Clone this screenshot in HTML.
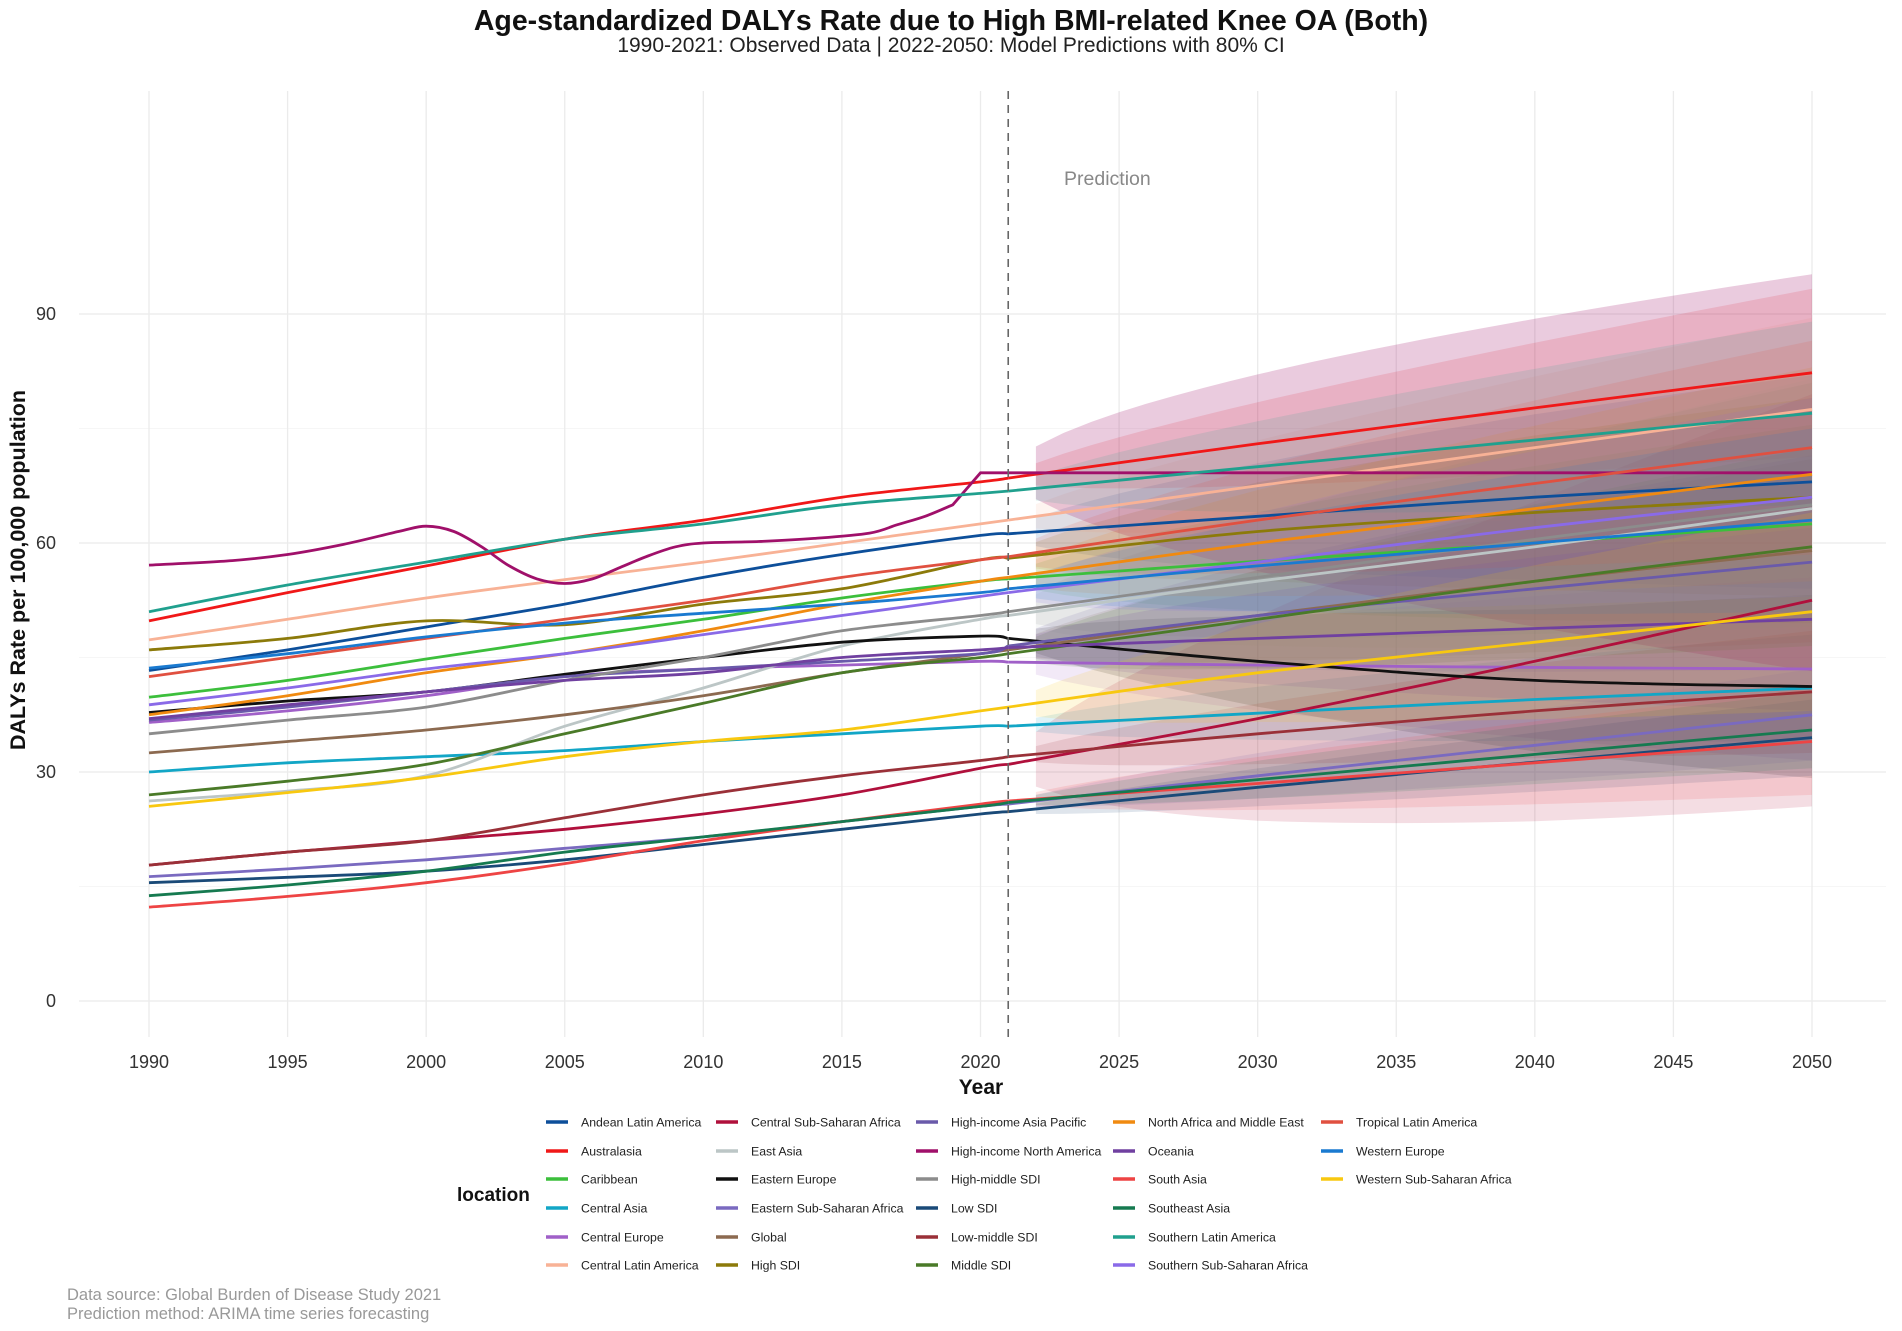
<!DOCTYPE html>
<html><head><meta charset="utf-8"><style>
body{margin:0;background:#fff;font-family:"Liberation Sans",Arial,sans-serif}
svg{display:block}
</style></head><body>
<svg id="chart" width="1902" height="1331" viewBox="0 0 1902 1331">
<text x="951" y="30" text-anchor="middle" font-size="28.5" font-weight="bold" fill="#111">Age-standardized DALYs Rate due to High BMI-related Knee OA (Both)</text>
<text x="951" y="52" text-anchor="middle" font-size="21" fill="#222">1990-2021: Observed Data | 2022-2050: Model Predictions with 80% CI</text>
<g id="grid"></g>
<g id="bands"></g>
<g id="lines"></g>
<g id="axes"></g>
<text x="1064" y="185" font-size="19.5" fill="#888">Prediction</text>
<text transform="translate(25,570) rotate(-90)" text-anchor="middle" font-size="21.5" font-weight="bold" fill="#111">DALYs Rate per 100,000 population</text>
<text x="981" y="1094" text-anchor="middle" font-size="21" font-weight="bold" fill="#111">Year</text>
<text x="457" y="1201" font-size="19" font-weight="bold" fill="#111">location</text>
<g id="legend"></g>
<text x="67" y="1300" font-size="16.5" fill="#999">Data source: Global Burden of Disease Study 2021</text>
<text x="67" y="1319" font-size="16.5" fill="#999">Prediction method: ARIMA time series forecasting</text>
</svg>
<script>
const obsYears=[1990,1995,2000,2005,2010,2015,2020,2021];
const fcYears=[2030,2040,2050];
const names=["Andean Latin America","Australasia","Caribbean","Central Asia","Central Europe","Central Latin America","Central Sub-Saharan Africa","East Asia","Eastern Europe","Eastern Sub-Saharan Africa","Global","High SDI","High-income Asia Pacific","High-income North America","High-middle SDI","Low SDI","Low-middle SDI","Middle SDI","North Africa and Middle East","Oceania","South Asia","Southeast Asia","Southern Latin America","Southern Sub-Saharan Africa","Tropical Latin America","Western Europe","Western Sub-Saharan Africa"];
const colors=["#0d4f9a","#f01818","#3cbf3c","#12a6c6","#a060c8","#f8b296","#b0103c","#bcc6c6","#111111","#7a6ac0","#8c6a50","#8c7a0a","#6a5aaa","#a0106a","#8c8c8c","#1a4a78","#9a3038","#4a7a28","#f08a10","#7040a0","#ee4444","#167a50","#20a08e","#8a6ae8","#e05040","#1a7ad0","#f8c810"];
const obs=[
[43.3,46,49,52,55.5,58.5,61,61.2],
[49.8,53.5,57,60.5,63,66,68,68.5],
[39.8,42,44.8,47.5,50,52.8,55,55.3],
[30,31.2,32,32.8,34,35,36,36],
[36.5,38,40,42.5,43.5,44,44.5,44.4],
[47.3,50,52.8,55.2,57.5,60,62.5,63],
[17.8,19.5,21,22.5,24.5,27,30.5,31],
[26.2,27.5,29.5,36,41,46.5,50,50.5],
[37.8,39.3,40.5,42.8,45,47,47.8,47.5],
[16.3,17.3,18.5,20,21.5,23.5,25.5,25.8],
[32.5,34,35.5,37.5,40,43,45.5,46],
[46,47.5,49.8,49.3,52,54,57.8,58],
[36.8,38.5,40.5,42.5,43.5,44.5,45.5,46.5],
null,
[35,36.8,38.5,42,45,48.5,50.5,51],
[15.5,16.2,17,18.5,20.5,22.5,24.5,24.8],
[17.8,19.5,21,24,27,29.5,31.5,32],
[27,28.8,31,35,39,43,45,45.5],
[37.5,40,43,45.5,48.5,52,55,55.5],
[37,38.8,40.5,42,43,45,46,46.3],
[12.3,13.7,15.5,18,21,23.5,25.8,26.2],
[13.8,15.2,17,19.5,21.5,23.5,25.5,26],
[51,54.5,57.5,60.5,62.5,65,66.5,66.8],
[38.8,41,43.5,45.5,48,50.5,53,53.5],
[42.5,45,47.5,50,52.5,55.5,57.8,58.2],
[43.6,45.5,47.7,49.5,50.8,52,53.5,54],
[25.5,27.3,29.3,32,34,35.5,38,38.5]];
const hinaYears=[1990,1993,1995,1997,1999,2000,2001,2002,2003,2004,2005,2006,2007,2008,2009,2010,2012,2014,2016,2017,2018,2019,2020,2021];
const hinaValues=[57.1,57.7,58.5,59.8,61.5,62.2,61.5,59.5,57,55.3,54.7,55.3,56.8,58.3,59.5,60,60.2,60.6,61.3,62.4,63.5,65,69.2,69.2];
const fc=[
[63.5,66,68],[73,77.7,82.3],[57.6,60,62.5],[37.7,39.5,41],[44,43.7,43.5],[67.5,72.5,77.5],
[37,44.5,52.5],[55,59.5,64.5],[44.5,42,41.2],[29.5,33.5,37.5],[50.5,55,59],[61.5,64,66],
[50.5,54,57.5],[69.2,69.2,69.2],[55.5,60.5,65],[28,31.3,34.5],[35,38,40.5],[50,55,59.5],
[60,64.5,69],[47.5,48.8,50],[28.5,31.2,34],[29,32.3,35.5],[70,73.5,77],[57.5,62,66],
[63,67.8,72.5],[57,60,63],[43,47,51]];
const ci2050=[14,11,13,7,12,12,27,17,12,6,12,13,14,26,16,5,8,13,14,12,7,5,12,13,14,12,13];
const yTicks=[0,30,60,90];
const xTicks=[1990,1995,2000,2005,2010,2015,2020,2025,2030,2035,2040,2045,2050];

const NS="http://www.w3.org/2000/svg";
const X=y=>149+(y-1990)*(1812-149)/60;
const Y=v=>1001-v*(1001-314)/90;
function mk(tag,attrs,parent){const e=document.createElementNS(NS,tag);for(const k in attrs)e.setAttribute(k,attrs[k]);parent.appendChild(e);return e;}
function smooth(pts){let d="M"+pts[0][0].toFixed(1)+","+pts[0][1].toFixed(1);
 for(let i=0;i<pts.length-1;i++){const p0=pts[i-1]||pts[i],p1=pts[i],p2=pts[i+1],p3=pts[i+2]||p2;
  const c1=[p1[0]+(p2[0]-p0[0])/6,p1[1]+(p2[1]-p0[1])/6],c2=[p2[0]-(p3[0]-p1[0])/6,p2[1]-(p3[1]-p1[1])/6];
  d+="C"+c1.map(n=>n.toFixed(1))+" "+c2.map(n=>n.toFixed(1))+" "+p2[0].toFixed(1)+","+p2[1].toFixed(1);}
 return d;}
const grid=document.getElementById('grid'),axes=document.getElementById('axes');
[15,45,75].forEach(v=>{mk('line',{x1:79,x2:1886,y1:Y(v),y2:Y(v),stroke:'#f6f6f6','stroke-width':1},grid);});
yTicks.forEach(v=>{const l=mk('line',{x1:79,x2:1886,y1:Y(v),y2:Y(v),stroke:'#ebebeb','stroke-width':1.3},grid);
 
 const t=mk('text',{x:56,y:Y(v)+6,'text-anchor':'end','font-size':18,fill:'#333'},axes);t.textContent=v;
 });
xTicks.forEach(v=>{const l=mk('line',{x1:X(v),x2:X(v),y1:91,y2:1037,stroke:'#ebebeb','stroke-width':1.3},grid);
 
 const t=mk('text',{x:X(v),y:1068,'text-anchor':'middle','font-size':18,fill:'#333'},axes);t.textContent=v;
 });
const bands=document.getElementById('bands'),lines=document.getElementById('lines');
names.forEach((n,i)=>{
 const ys=i===13?hinaYears:obsYears, vs=i===13?hinaValues:obs[i];
 const last=vs[vs.length-1];
 const fpts=[[X(2021),Y(last)]].concat(fcYears.map((y,j)=>[X(y),Y(fc[i][j])]));
 const up=[],lo=[];
 for(let yr=2022;yr<=2050;yr++){
  let c; if(yr<=2030)c=last+(fc[i][0]-last)*(yr-2021)/9; else if(yr<=2040)c=fc[i][0]+(fc[i][1]-fc[i][0])*(yr-2030)/10; else c=fc[i][1]+(fc[i][2]-fc[i][1])*(yr-2040)/10;
  const h=ci2050[i]*Math.pow((yr-2021)/29,0.6);
  up.push(X(yr).toFixed(1)+","+Y(c+h).toFixed(1));lo.unshift(X(yr).toFixed(1)+","+Y(c-h).toFixed(1));}
 const b=mk('polygon',{points:up.concat(lo).join(' '),fill:colors[i],'fill-opacity':i===13?0.22:0.14},bands);
 
 let d;
 if(i===13){const k=ys.length-3;
  d=smooth(ys.slice(0,k+1).map((y,j)=>[X(y),Y(vs[j])]));
  for(let j=k+1;j<ys.length;j++)d+="L"+X(ys[j]).toFixed(1)+","+Y(vs[j]).toFixed(1);}
 else d=smooth(ys.map((y,j)=>[X(y),Y(vs[j])]));
 const p=mk('path',{d:d,fill:'none',stroke:colors[i],'stroke-width':2.8},lines);
 
 const q=mk('path',{d:smooth(fpts),fill:'none',stroke:colors[i],'stroke-width':2.8},lines);
 
});
const dl=mk('line',{x1:X(2021),x2:X(2021),y1:91,y2:1037,stroke:'#666','stroke-width':1.6,'stroke-dasharray':'8,6'},axes);

const leg=document.getElementById('legend');
const colX=[546,716,916,1113,1321],rowY=[1122,1151,1179,1208,1237,1265];
names.forEach((n,i)=>{const c=Math.floor(i/6),r=i%6;
 const g=mk('g',{},leg);
 mk('line',{x1:colX[c],x2:colX[c]+22,y1:rowY[r],y2:rowY[r],stroke:colors[i],'stroke-width':3.5},g);
 const t=mk('text',{x:colX[c]+35,y:rowY[r]+4.5,'font-size':12.3,fill:'#222'},g);t.textContent=n;});
</script>
</body></html>
